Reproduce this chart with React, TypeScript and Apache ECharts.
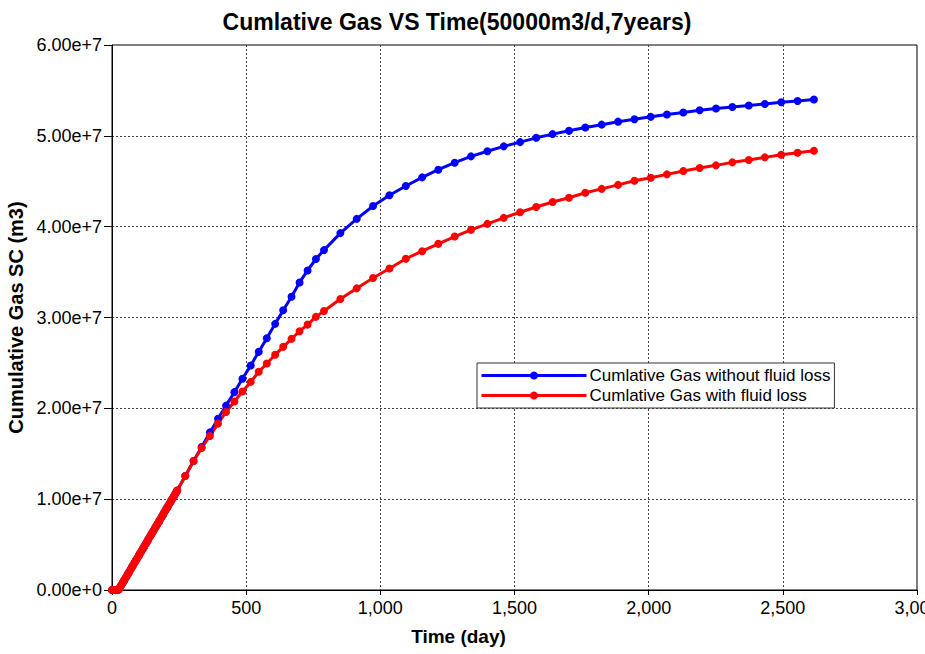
import React, { useEffect, useRef } from "react";
import * as echarts from "echarts";

// Plateau period: constant 50000 m3/d after start-up (shared by both cases)
const earlyDays = [
  0, 5, 10, 15, 20, 25, 30, 35, 40, 45, 50, 55, 60, 65, 70, 75, 80, 85, 90, 95,
  100, 105, 110, 115, 120, 125, 130, 135, 140, 145, 150, 155, 160, 165, 170, 175,
  180, 185, 190, 195, 200, 205, 210, 215, 220, 225, 230, 235, 240, 243,
];
const earlyGas = [
  0, 0, 0, 0, 0, 50000, 300000, 550000, 800000, 1050000, 1300000, 1550000,
  1800000, 2050000, 2300000, 2550000, 2800000, 3050000, 3300000, 3550000,
  3800000, 4050000, 4300000, 4550000, 4800000, 5050000, 5300000, 5550000,
  5800000, 6050000, 6300000, 6550000, 6800000, 7050000, 7300000, 7550000,
  7800000, 8050000, 8300000, 8550000, 8800000, 9050000, 9300000, 9550000,
  9800000, 10050000, 10300000, 10550000, 10800000, 10950000,
];

// Report steps after the first 8 months
const laterDays = [
  273, 304, 334, 365, 395, 425, 456, 486, 517, 547, 577, 608, 638, 669, 699, 729,
  760, 790, 851, 912, 973, 1034, 1095, 1156, 1216, 1277, 1338, 1399, 1460, 1521,
  1581, 1642, 1703, 1764, 1825, 1886, 1947, 2008, 2068, 2129, 2190, 2251, 2312,
  2373, 2433, 2494, 2555, 2616,
];
const gasWithoutLoss = [
  1.255e7, 1.42e7, 1.575e7, 1.735e7, 1.885e7, 2.03e7, 2.178e7, 2.326e7, 2.472e7,
  2.622e7, 2.772e7, 2.93e7, 3.079e7, 3.229e7, 3.386e7, 3.518e7, 3.644e7, 3.742e7,
  3.929e7, 4.086e7, 4.228e7, 4.346e7, 4.448e7, 4.543e7, 4.627e7, 4.704e7, 4.774e7,
  4.83e7, 4.884e7, 4.931e7, 4.978e7, 5.019e7, 5.055e7, 5.092e7, 5.123e7, 5.156e7,
  5.183e7, 5.209e7, 5.235e7, 5.257e7, 5.282e7, 5.301e7, 5.318e7, 5.334e7, 5.351e7,
  5.37e7, 5.384e7, 5.4e7,
];
const gasWithLoss = [
  1.255e7, 1.42e7, 1.564e7, 1.696e7, 1.832e7, 1.96e7, 2.075e7, 2.185e7, 2.291e7,
  2.403e7, 2.494e7, 2.589e7, 2.677e7, 2.765e7, 2.849e7, 2.922e7, 3.007e7, 3.072e7,
  3.204e7, 3.321e7, 3.435e7, 3.54e7, 3.647e7, 3.73e7, 3.811e7, 3.891e7, 3.965e7,
  4.031e7, 4.097e7, 4.159e7, 4.217e7, 4.272e7, 4.319e7, 4.374e7, 4.416e7, 4.46e7,
  4.506e7, 4.539e7, 4.576e7, 4.613e7, 4.645e7, 4.675e7, 4.708e7, 4.733e7, 4.763e7,
  4.791e7, 4.813e7, 4.835e7,
];

const seriesNames = [
  "Cumlative Gas without fluid loss",
  "Cumlative Gas with fluid loss",
];

const FONT = "'Liberation Sans', Arial, sans-serif";

function buildPoints(later: number[]): [number, number][] {
  const pts: [number, number][] = earlyDays.map((d, i) => [d, earlyGas[i]]);
  laterDays.forEach((d, i) => pts.push([d, later[i]]));
  return pts;
}

export default function App() {
  const ref = useRef<HTMLDivElement>(null);

  useEffect(() => {
    if (!ref.current) return;
    const chart = echarts.init(ref.current, undefined, { renderer: "svg" });

    const gridLine = {
      show: true,
      showMinLine: false,
      showMaxLine: false,
      lineStyle: { color: "#444", width: 1, type: [2, 2] as number[] },
    };

    chart.setOption({
      animation: false,
      backgroundColor: "#fff",
      title: {
        text: "Cumlative Gas VS Time(50000m3/d,7years)",
        left: 452,
        top: 5,
        textAlign: "center",
        textStyle: {
          fontFamily: FONT,
          fontWeight: "bold",
          fontSize: 23,
          color: "#000",
        },
      },
      grid: {
        left: 112,
        right: 8,
        top: 45,
        bottom: 64,
        show: true,
        borderColor: "#000",
        borderWidth: 1,
        backgroundColor: "transparent",
        containLabel: false,
        outerBoundsMode: "none",
      },
      legend: {
        orient: "vertical",
        left: 477,
        top: 363,
        padding: [4, 4, 4, 3],
        itemGap: 3,
        itemWidth: 105,
        itemHeight: 10,
        backgroundColor: "#fff",
        borderColor: "#333",
        borderWidth: 1,
        borderRadius: 0,
        z: 10,
        lineStyle: { width: 3 },
        textStyle: {
          fontFamily: FONT,
          fontSize: 17,
          lineHeight: 17,
          color: "#000",
          padding: [0, 0, 0, -2],
        },
        data: seriesNames,
      },
      xAxis: {
        type: "value",
        min: 0,
        max: 3000,
        interval: 500,
        name: "Time (day)",
        nameLocation: "middle",
        nameGap: 37,
        nameTextStyle: {
          fontFamily: FONT,
          fontWeight: "bold",
          fontSize: 19,
          color: "#000",
          padding: [0, 112, 0, 0],
        },
        axisLine: { show: true, lineStyle: { color: "#000", width: 1 } },
        axisTick: { show: true, length: 5, lineStyle: { color: "#000" } },
        axisLabel: {
          margin: 9,
          fontFamily: FONT,
          fontSize: 18,
          color: "#000",
          formatter: (v: number) => v.toLocaleString("en-US"),
        },
        splitLine: gridLine,
      },
      yAxis: {
        type: "value",
        min: 0,
        max: 6e7,
        interval: 1e7,
        name: "Cumulative Gas SC (m3)",
        nameLocation: "middle",
        nameGap: 84,
        nameTextStyle: {
          fontFamily: FONT,
          fontWeight: "bold",
          fontSize: 20,
          color: "#000",
        },
        axisLine: { show: true, lineStyle: { color: "#000", width: 1 } },
        axisTick: { show: true, length: 8, lineStyle: { color: "#000" } },
        axisLabel: {
          margin: 10,
          fontFamily: FONT,
          fontSize: 18,
          color: "#000",
          formatter: (v: number) => v.toExponential(2),
        },
        splitLine: gridLine,
      },
      series: [
        {
          name: seriesNames[0],
          type: "line",
          data: buildPoints(gasWithoutLoss),
          color: "#0000ff",
          symbol: "circle",
          symbolSize: 8,
          showSymbol: true,
          showAllSymbol: true,
          lineStyle: { width: 3, color: "#0000ff" },
          itemStyle: { color: "#0000ff" },
        },
        {
          name: seriesNames[1],
          type: "line",
          data: buildPoints(gasWithLoss),
          color: "#ff0000",
          symbol: "circle",
          symbolSize: 8,
          showSymbol: true,
          showAllSymbol: true,
          lineStyle: { width: 3, color: "#ff0000" },
          itemStyle: { color: "#ff0000" },
        },
      ],
    });

    return () => chart.dispose();
  }, []);

  return (
    <div
      ref={ref}
      style={{ position: "fixed", left: 0, top: 0, width: 925, height: 654 }}
    />
  );
}
